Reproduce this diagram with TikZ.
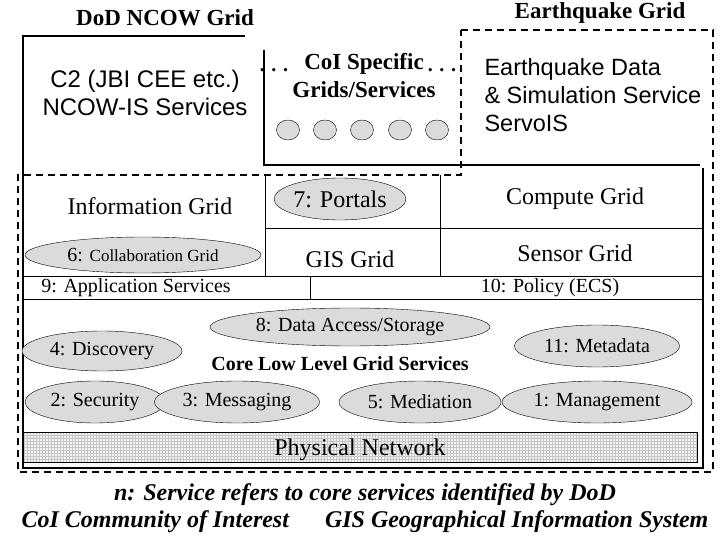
\documentclass[tikz,border=0pt]{standalone}
\usepackage{fontspec}
\setmainfont{Liberation Serif}
\newfontfamily\arialf{Liberation Sans}
\usetikzlibrary{shapes.geometric,patterns}
\begin{document}
\begin{tikzpicture}[x=1pt,y=-1pt,
  lab/.style={font=\fontsize{24}{26}\selectfont},
  small/.style={font=\fontsize{20}{22}\selectfont},
  bold/.style={font=\fontsize{23}{26}\selectfont\bfseries},
  oval/.style={ellipse,draw,fill=gray!28,inner sep=0pt},
  dsh/.style={dash pattern=on 7pt off 5pt,line width=1.2pt},
  sol/.style={line width=1.2pt},
  thin/.style={line width=0.6pt}]
\useasboundingbox (0,0) rectangle (720,540);
% titles
\node[bold] (tdod) at (165,18) {DoD NCOW Grid};
\node[bold] (teq) at (600,13) {Earthquake Grid};
% DoD solid frame
\draw[sol] (245,36) -- (23,36) -- (23,468) -- (703,468) -- (703,168);
\draw[sol] (264,50) -- (264,165) -- (700,165);
% earthquake dashed frame
\draw[dsh] (461,30) -- (713,30) -- (713,472) -- (18,472) -- (18,175) -- (461,175) -- (461,30);
% top texts
\node[font=\arialf\fontsize{24}{28}\selectfont,align=center] (c2) at (145,93) {C2 (JBI CEE etc.)\\NCOW-IS Services};
\node[align=center,font=\fontsize{23}{28}\selectfont\bfseries] (coi) at (364,76) {CoI Specific\\Grids/Services};
\node[font=\bfseries\fontsize{20}{20}\selectfont] (d1) at (274,70) {. . .};
\node[font=\bfseries\fontsize{20}{20}\selectfont] (d2) at (442,70) {. . .};
\foreach \i/\x in {1/288,2/325,3/362,4/400,5/437}
  \node[ellipse,draw,fill=gray!28,minimum width=23pt,minimum height=20pt,inner sep=0pt] (c\i) at (\x,130) {};
\node[font=\arialf\fontsize{23.5}{28}\selectfont,align=left,anchor=west] (eq) at (481,95) {Earthquake Data\\\& Simulation Service\\ServoIS};
% grid lines
\draw[thin] (265,175) -- (265,276);
\draw[thin] (440,175) -- (440,276);
\draw[thin] (265,228) -- (703,228);
\draw[thin] (23,276) -- (703,276);
\draw[thin] (23,299) -- (703,299);
\draw[thin] (310,276) -- (310,299);
% row contents
\node[lab] (ig) at (150,206) {Information Grid};
\node[oval,minimum width=236pt,minimum height=36pt,font=\fontsize{20}{22}\selectfont] (collab) at (143,255) {6: {\fontsize{17}{19}\selectfont Collaboration Grid}};
\node[oval,minimum width=115pt,minimum height=42pt,lab] (portals) at (340,199) {7: Portals};
\node[lab] (gis) at (350,259) {GIS Grid};
\node[lab] (cg) at (575,199) {Compute Grid};
\node[lab] (sg) at (575,253) {Sensor Grid};
\node[small] (app) at (136,288) {9: Application Services};
\node[small] (pol) at (550,288) {10: Policy (ECS)};
% core
\node[oval,minimum width=280pt,minimum height=38pt,small] (data) at (350,327) {8: Data Access/Storage};
\node[oval,minimum width=160pt,minimum height=40pt,small] (disc) at (102,351) {4: Discovery};
\node[oval,minimum width=165pt,minimum height=42pt,small] (meta) at (597,346) {11: Metadata};
\node[font=\fontsize{20}{22}\selectfont\bfseries] (core) at (340,364) {Core Low Level Grid Services};
\node[oval,minimum width=140pt,minimum height=42pt,small] (sec) at (95,402) {2: Security};
\node[oval,minimum width=165pt,minimum height=42pt,small] (msg) at (237,402) {3: Messaging};
\node[oval,minimum width=162pt,minimum height=42pt,small] (med) at (420,402) {5: Mediation};
\node[oval,minimum width=190pt,minimum height=42pt,small] (mgmt) at (597,402) {1: Management};
% physical network
\filldraw[thin,fill=gray!10] (23,432) rectangle (697,462);
\fill[pattern=grid,pattern color=gray!45] (23,432) rectangle (697,462);
\draw[thin] (23,432) rectangle (697,462);
\node[lab] (pn) at (360,450) {Physical Network};
% footer
\node[font=\fontsize{24}{26}\selectfont\bfseries\itshape] (f1) at (365,495) {n: Service refers to core services identified by DoD};
\node[font=\fontsize{24}{26}\selectfont\bfseries\itshape] (f2) at (365,522) {CoI Community of Interest\hspace{36pt}GIS Geographical Information System};
\end{tikzpicture}
\end{document}
